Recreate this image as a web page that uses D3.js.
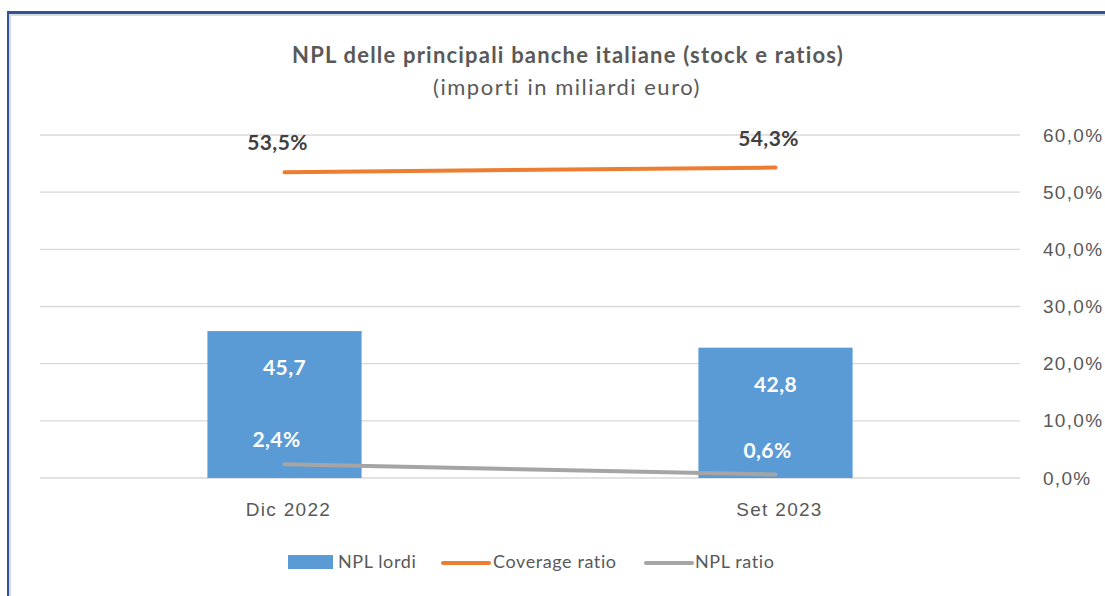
<!DOCTYPE html>
<html lang="it">
<head>
<meta charset="UTF-8" />
<title>NPL delle principali banche italiane</title>
<style>
  body { margin: 0; background: #fff; font-family: Lato, "Open Sans", sans-serif; }
  svg { display: block; }
  .grid line { stroke: #d9d9d9; stroke-width: 1.3px; }
  .axis text { fill: #595959; font-size: 19px; letter-spacing: 1.3px; }
  .legend text { fill: #595959; font-size: 18px; letter-spacing: 0.6px; }
  .lbl { font-size: 21px; font-weight: bold; letter-spacing: 0.4px; }
</style>
</head>
<body>
<svg width="1105" height="596"></svg>

<script src="https://d3js.org/d3.v7.min.js"></script>
<script>
// data
const categories = ["Dic 2022", "Set 2023"];
const nplLordi = [45.7, 42.8];        // miliardi euro (primary axis, hidden)
const coverageRatio = [0.535, 0.543]; // secondary axis
const nplRatio = [0.024, 0.006];
const pctTicks = [0, 0.1, 0.2, 0.3, 0.4, 0.5, 0.6];

const colors = { bar: "#5B9BD5", coverage: "#ED7D31", ratio: "#A5A5A5" };

const it = d3.formatLocale({ decimal: ",", thousands: ".", grouping: [3], currency: ["€", ""] });
const fmtAxis = it.format(".1%");
const fmtNum = it.format(".1f");

const svg = d3.select("svg");

// frame of the chart
svg.append("rect").attr("x", 7).attr("y", 11).attr("width", 1100).attr("height", 3).attr("fill", "#2F5597");
svg.append("rect").attr("x", 7).attr("y", 11).attr("width", 2).attr("height", 590).attr("fill", "#2F5597");
svg.append("rect").attr("x", 9).attr("y", 14).attr("width", 1100).attr("height", 2).attr("fill", "#d9d9d9");
svg.append("rect").attr("x", 9).attr("y", 14).attr("width", 2).attr("height", 590).attr("fill", "#d9d9d9");

// titles
svg.append("text")
  .attr("x", 568).attr("y", 63)
  .attr("text-anchor", "middle")
  .attr("fill", "#595959")
  .style("font-size", "22px").style("font-weight", "bold").style("letter-spacing", "1.2px")
  .text("NPL delle principali banche italiane (stock e ratios)");
svg.append("text")
  .attr("x", 567).attr("y", 95)
  .attr("text-anchor", "middle")
  .attr("fill", "#595959")
  .style("font-size", "22px").style("letter-spacing", "1.5px")
  .text("(importi in miliardi euro)");

// scales
const x = d3.scaleBand().domain(categories).range([39, 1021])
  .paddingInner(0.686).paddingOuter(0.343);
const yBar = d3.scaleLinear().domain([20, 80]).range([478, 135]);
const yPct = d3.scaleLinear().domain([0, 0.6]).range([478, 135]);

// gridlines
svg.append("g").attr("class", "grid")
  .selectAll("line").data(pctTicks).join("line")
  .attr("x1", 40).attr("x2", 1020)
  .attr("y1", d => yPct(d)).attr("y2", d => yPct(d));

// right axis
const yAxis = d3.axisRight(yPct).tickValues(pctTicks).tickFormat(fmtAxis).tickSize(0).tickPadding(0);
svg.append("g").attr("class", "axis")
  .attr("transform", "translate(1043,0)")
  .call(yAxis)
  .call(g => g.select(".domain").remove());

// bottom category labels
const xAxis = d3.axisBottom(x).tickSize(0).tickPadding(0);
svg.append("g").attr("class", "axis")
  .attr("transform", "translate(4,502)")
  .call(xAxis)
  .call(g => g.select(".domain").remove())
  .call(g => g.selectAll("text").style("font-size", "19px").style("letter-spacing", "1.3px"));

// bars
svg.append("g").selectAll("rect").data(nplLordi).join("rect")
  .attr("x", (d, i) => x(categories[i]))
  .attr("width", x.bandwidth())
  .attr("y", d => yBar(d))
  .attr("height", d => yBar(20) - yBar(d))
  .attr("fill", colors.bar);

// bar labels
svg.append("g").selectAll("text").data(nplLordi).join("text")
  .attr("class", "lbl")
  .attr("x", (d, i) => x(categories[i]) + x.bandwidth() / 2)
  .attr("y", d => yBar(d) + 44)
  .attr("text-anchor", "middle")
  .attr("fill", "#fff")
  .text(d => fmtNum(d));

const cx = (d, i) => x(categories[i]) + x.bandwidth() / 2;

// lines
const line = d3.line().x(cx).y(d => yPct(d));
svg.append("path").datum(coverageRatio)
  .attr("d", line).attr("fill", "none")
  .attr("stroke", colors.coverage).attr("stroke-width", 4).attr("stroke-linecap", "round");
svg.append("path").datum(nplRatio)
  .attr("d", line).attr("fill", "none")
  .attr("stroke", colors.ratio).attr("stroke-width", 4).attr("stroke-linecap", "round");

// line labels
svg.append("g").selectAll("text").data(coverageRatio).join("text")
  .attr("class", "lbl")
  .attr("x", (d, i) => cx(d, i) - 7)
  .attr("y", d => yPct(d) - 22)
  .attr("text-anchor", "middle")
  .attr("fill", "#404040")
  .text(d => fmtAxis(d));
svg.append("g").selectAll("text").data(nplRatio).join("text")
  .attr("class", "lbl")
  .attr("x", (d, i) => cx(d, i) - 8)
  .attr("y", d => yPct(d) - 17)
  .attr("text-anchor", "middle")
  .attr("fill", "#fff")
  .text(d => fmtAxis(d));

// legend
const legend = svg.append("g").attr("class", "legend");
legend.append("rect").attr("x", 288).attr("y", 555).attr("width", 45).attr("height", 14).attr("fill", colors.bar);
legend.append("text").attr("x", 338).attr("y", 568).text("NPL lordi");
legend.append("line").attr("x1", 443).attr("x2", 489).attr("y1", 563).attr("y2", 563)
  .attr("stroke", colors.coverage).attr("stroke-width", 4).attr("stroke-linecap", "round");
legend.append("text").attr("x", 493).attr("y", 568).text("Coverage ratio");
legend.append("line").attr("x1", 646).attr("x2", 692).attr("y1", 563).attr("y2", 563)
  .attr("stroke", colors.ratio).attr("stroke-width", 4).attr("stroke-linecap", "round");
legend.append("text").attr("x", 695).attr("y", 568).text("NPL ratio");
</script>
</body>
</html>
